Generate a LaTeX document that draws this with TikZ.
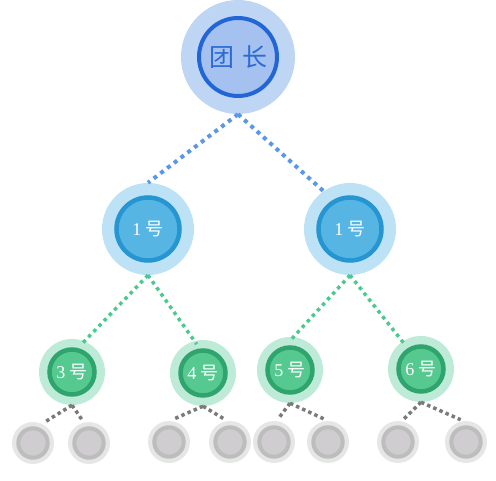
\documentclass[tikz,border=0pt]{standalone}
\usepackage{fontspec}
\setmainfont{Liberation Serif}
\newfontfamily\cjk{Noto Sans CJK SC}
\usetikzlibrary{positioning}

\definecolor{chiefhalo}{HTML}{BFD5F4}
\definecolor{chieffill}{HTML}{A4C1EF}
\definecolor{chiefring}{HTML}{2266D6}
\definecolor{chieftext}{HTML}{2B6BD5}
\definecolor{caphalo}{HTML}{BDE2F5}
\definecolor{capfill}{HTML}{57B5E4}
\definecolor{capring}{HTML}{2596D1}
\definecolor{memhalo}{HTML}{BDEBD7}
\definecolor{memfill}{HTML}{56C991}
\definecolor{memring}{HTML}{2FA46D}
\definecolor{greyhalo}{HTML}{E6E6E6}
\definecolor{greyfill}{HTML}{CFCDCF}
\definecolor{greyring}{HTML}{BDBDBD}
\definecolor{edgeblue}{HTML}{5B96E8}
\definecolor{edgegreen}{HTML}{4CC98E}
\definecolor{edgegrey}{HTML}{7A7A7A}

\begin{document}
\begin{tikzpicture}[
    x=1pt, y=-1pt,
    chief/.style={circle, fill=chiefhalo, minimum size=114pt, inner sep=0pt,
        text=chieftext, font=\cjk\fontsize{25}{25}\selectfont,
        path picture={\draw[line width=4pt, draw=chiefring, fill=chieffill]
            (path picture bounding box.center) circle (39pt);}},
    captain/.style={circle, fill=caphalo, minimum size=92pt, inner sep=0pt,
        text=white, font=\fontsize{18}{18}\selectfont,
        path picture={\draw[line width=4.5pt, draw=capring, fill=capfill]
            (path picture bounding box.center) circle (31.5pt);}},
    member/.style={circle, fill=memhalo, minimum size=66pt, inner sep=0pt,
        text=white, font=\fontsize{18}{18}\selectfont,
        path picture={\draw[line width=4.5pt, draw=memring, fill=memfill]
            (path picture bounding box.center) circle (22.5pt);}},
    empty/.style={circle, fill=greyhalo, minimum size=42pt, inner sep=0pt,
        path picture={\draw[line width=4pt, draw=greyring, fill=greyfill]
            (path picture bounding box.center) circle (14.7pt);}},
    topedge/.style={draw=edgeblue, line width=4pt, dash pattern=on 4pt off 4.5pt},
    midedge/.style={draw=edgegreen, line width=3.5pt, dash pattern=on 3.5pt off 4pt, shorten >=-4pt},
    lowedge/.style={draw=edgegrey, line width=3.5pt, dash pattern=on 3.5pt off 3.2pt, shorten >=3pt},
]
\useasboundingbox (0,0) rectangle (496,481);

% leader
\node[chief] (chief) at (238,57) {团\hspace{8pt}长};

% captains
\node[captain] (capl) at (148,229) {1 {\cjk 号}};
\node[captain] (capr) at (350,229) {1 {\cjk 号}};

% members
\node[member] (m3) at (72,372) {3 {\cjk 号}};
\node[member] (m4) at (203,373) {4 {\cjk 号}};
\node[member] (m5) at (290,370) {5 {\cjk 号}};
\node[member] (m6) at (421,369) {6 {\cjk 号}};

% empty seats
\node[empty] (g1) at (33,443) {};
\node[empty] (g2) at (89,443) {};
\node[empty] (g3) at (169,442) {};
\node[empty] (g4) at (230,442) {};
\node[empty] (g5) at (274,442) {};
\node[empty] (g6) at (328,442) {};
\node[empty] (g7) at (398,442) {};
\node[empty] (g8) at (466,442) {};

\draw[topedge] (chief.south) -- (capl.90);
\draw[topedge] (chief.south) -- (capr.125);

\draw[midedge] (capl.south) -- (m3.68);
\draw[midedge] (capl.south) -- (m4.105);
\draw[midedge] (capr.south) -- (m5.84);
\draw[midedge] (capr.south) -- (m6.124);

\draw[lowedge] (m3.south) -- (g1.65);
\draw[lowedge] (m3.south) -- (g2.104);
\draw[lowedge] (m4.south) -- (g3.88);
\draw[lowedge] (m4.south) -- (g4.97);
\draw[lowedge] (m5.south) -- (g5.83);
\draw[lowedge] (m5.south) -- (g6.90);
\draw[lowedge] (m6.south) -- (g7.80);
\draw[lowedge] (m6.south) -- (g8.97);
\end{tikzpicture}
\end{document}
